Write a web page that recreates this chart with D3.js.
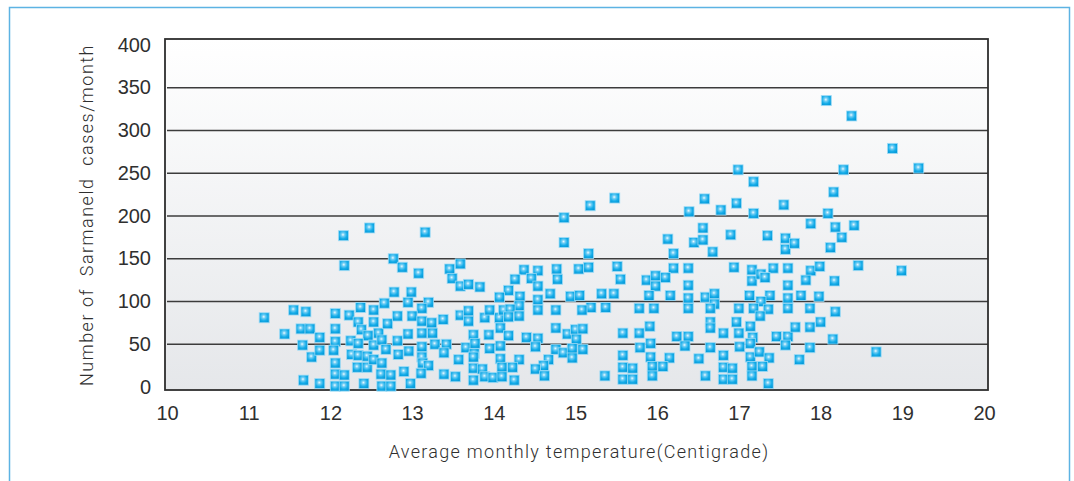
<!DOCTYPE html>
<html>
<head>
<meta charset="utf-8">
<script src="https://cdn.jsdelivr.net/npm/d3@7"></script>
<style>
  html, body { margin: 0; padding: 0; background: #fff; }
  svg { display: block; font-family: Roboto, "Liberation Sans", Arial, sans-serif; font-weight: 300; }
  .tick-label { font-size: 20px; fill: #2f2f2f; }
  .axis-title { font-size: 18px; fill: #2f2f2f; white-space: pre; }
</style>
</head>
<body>
<div id="chart"></div>
<script>
"use strict";

// average monthly temperature (centigrade)
var temps = [
  11.19, 11.44, 11.55, 11.70, 11.64, 11.75, 11.66, 11.87, 11.77, 11.87, 11.67, 11.87,
  12.16, 12.17, 12.06, 12.23, 12.37, 12.06, 12.34, 12.38, 12.46, 12.06, 12.25, 12.34,
  12.04, 12.26, 12.34, 12.45, 12.06, 12.33, 12.45, 12.06, 12.17, 12.41, 12.06, 12.17,
  12.48, 13.16, 12.53, 12.53, 12.59, 12.53, 12.53, 12.62, 12.63, 12.63, 12.63, 12.66,
  12.68, 12.70,
  12.77, 12.88, 13.08, 13.46, 13.59, 13.49, 13.59, 13.69, 13.83, 14.37, 14.54, 14.77,
  15.04, 14.26, 14.46, 14.78, 14.54, 12.78, 12.99, 14.18, 14.07, 14.32, 14.69, 14.94,
  15.05, 14.54, 12.95, 13.20, 13.12, 14.31, 12.82, 13.00, 13.12, 13.24, 13.38, 13.59,
  13.69, 13.69, 13.89, 13.95, 14.07, 14.12, 14.20, 14.18, 14.31, 14.54, 14.76, 13.12,
  12.95, 13.25, 14.08, 14.18, 13.94, 13.75, 14.40, 14.54, 14.76, 14.90, 15.00, 15.01,
  12.82, 12.83, 12.96, 13.12, 13.28, 13.42, 13.39, 13.66, 13.77, 13.76, 13.75, 13.95,
  14.08, 14.51, 14.76, 14.85, 14.96, 14.96, 13.12, 13.13, 13.20, 13.57, 14.08, 14.31,
  14.67, 14.61, 14.51, 14.10, 14.23, 13.75, 13.86, 12.74, 12.90, 13.11, 13.39, 13.53,
  13.89, 13.99, 14.10, 14.25, 14.62, 13.75, 12.98, 12.74, 14.86, 14.86,
  16.99, 17.18, 15.18, 15.48, 16.58, 16.97, 16.39, 16.78, 17.18, 17.55, 16.56, 16.13,
  16.45, 16.56, 16.90, 17.35, 17.57, 17.57, 16.68, 16.20, 15.16, 15.16, 15.51, 16.20,
  16.38, 16.94, 17.16, 17.42, 17.60, 17.16, 17.27, 17.32, 15.55, 15.87, 15.98, 16.10,
  15.98, 16.38, 17.60, 15.32, 15.47, 15.90, 16.16, 16.38, 16.59, 16.70, 16.70, 17.13,
  17.38, 17.27, 17.60, 15.19, 15.08, 15.37, 15.78, 15.96, 16.38, 16.65, 17.00, 17.18,
  17.36, 17.60, 17.26, 15.09, 15.58, 15.78, 15.91, 16.24, 16.38, 16.65, 16.65, 16.81,
  16.97, 17.00, 17.14, 17.17, 17.46, 17.60, 15.09, 15.79, 15.92, 16.34, 16.65, 17.01,
  17.14, 17.57, 15.58, 15.92, 16.15, 16.51, 16.81, 17.14, 17.25, 17.37, 15.58, 15.70,
  15.94, 16.07, 16.81, 16.92, 17.16, 17.29, 15.36, 15.58, 15.70, 15.94, 16.59, 16.81,
  16.92, 17.16, 17.36,
  18.07, 18.38, 18.88, 18.28, 19.20, 18.16, 18.09, 17.88, 18.18, 18.41, 18.26, 17.68,
  18.12, 17.88, 17.99, 18.46, 18.99, 17.82, 18.17, 17.76, 17.98, 17.87, 18.18, 17.69,
  17.87, 18.00, 18.15, 17.87, 18.68, 17.74
];

// number of Sarmaneld cases per month
var cases = [
  81, 62, 90, 88, 68, 68, 49, 58, 35, 43, 8, 4,
  177, 142, 86, 84, 93, 68, 76, 67, 60, 53, 54, 51,
  43, 38, 37, 36, 28, 23, 23, 15, 14, 4, 1, 1,
  186, 181, 90, 76, 63, 49, 32, 15, 1, 55, 28, 98,
  44, 74,
  150, 140, 133, 138, 144, 127, 118, 120, 117, 137, 136, 138,
  138, 126, 127, 126, 118, 111, 111, 113, 105, 106, 109, 106,
  107, 102, 99, 99, 92, 95, 83, 83, 77, 75, 79, 84,
  89, 77, 81, 90, 81, 90, 91, 82, 83, 90, 90, 63,
  62, 63, 69, 60, 61, 61, 58, 57, 69, 62, 67, 56,
  54, 38, 42, 47, 50, 50, 40, 46, 51, 39, 35, 45,
  48, 47, 44, 40, 45, 34, 35, 28, 25, 32, 33, 32,
  32, 25, 21, 23, 23, 22, 21, 14, 18, 16, 15, 12,
  12, 11, 12, 8, 13, 8, 4, 1, 198, 169,
  254, 240, 212, 221, 220, 215, 205, 207, 203, 213, 186, 173,
  169, 172, 178, 177, 174, 161, 158, 156, 156, 140, 141, 139,
  139, 140, 137, 139, 139, 124, 132, 128, 126, 125, 130, 128,
  118, 119, 119, 109, 109, 107, 107, 104, 105, 109, 97, 107,
  107, 100, 104, 93, 90, 93, 92, 92, 92, 92, 92, 92,
  91, 92, 83, 68, 63, 63, 71, 59, 59, 76, 69, 63,
  76, 63, 71, 58, 59, 59, 44, 46, 51, 48, 46, 47,
  51, 49, 37, 35, 34, 33, 37, 35, 41, 34, 23, 22,
  24, 24, 23, 22, 24, 24, 13, 9, 9, 13, 13, 9,
  9, 13, 4,
  335, 317, 279, 254, 256, 228, 203, 191, 187, 189, 175, 168,
  163, 136, 141, 142, 136, 125, 124, 107, 106, 92, 88, 70,
  70, 76, 56, 46, 41, 32
];

var xTicks = [10, 11, 12, 13, 14, 15, 16, 17, 18, 19, 20];
var yTicks = [0, 50, 100, 150, 200, 250, 300, 350, 400];
var xTitle = "Average monthly temperature(Centigrade)";
var yTitle = "Number of  Sarmaneld  cases/month";

var width = 1074, height = 481;

var svg = d3.select("#chart")
    .append("svg")
    .attr("width", width)
    .attr("height", height);

var defs = svg.append("defs");

// plot background: white fading to light grey
var bg = defs.append("linearGradient")
    .attr("id", "plotBg")
    .attr("x1", 0).attr("y1", 0).attr("x2", 0).attr("y2", 1);
bg.append("stop").attr("offset", "0%").attr("stop-color", "#ffffff");
bg.append("stop").attr("offset", "100%").attr("stop-color", "#e5e7ea");

// glossy marker
var glow = defs.append("radialGradient")
    .attr("id", "markerFill")
    .attr("cx", "45%").attr("cy", "40%").attr("r", "62%");
glow.append("stop").attr("offset", "0%").attr("stop-color", "#eefaff");
glow.append("stop").attr("offset", "28%").attr("stop-color", "#6fcdf4");
glow.append("stop").attr("offset", "65%").attr("stop-color", "#16ade9");
glow.append("stop").attr("offset", "100%").attr("stop-color", "#0599d8");

// outer light blue frame
svg.append("rect")
    .attr("x", 9.5).attr("y", 7.5)
    .attr("width", 1060).attr("height", 500)
    .attr("fill", "none")
    .attr("stroke", "#5db3e3")
    .attr("stroke-width", 1.5);

var frame = { left: 165, top: 39, right: 988, bottom: 390 };

var xScale = d3.scaleLinear()
    .domain([10, 20])
    .range([167, 984]);

var yScale = d3.scaleLinear()
    .domain([0, 400])
    .range([387, 45]);

svg.append("rect")
    .attr("x", frame.left).attr("y", frame.top)
    .attr("width", frame.right - frame.left)
    .attr("height", frame.bottom - frame.top)
    .attr("fill", "url(#plotBg)");

// horizontal grid lines
svg.selectAll(".grid")
    .data(yTicks.filter(function(d){ return d > 0 && d < 400; }))
    .enter()
    .append("line")
    .attr("class", "grid")
    .attr("x1", frame.left + 2)
    .attr("x2", frame.right)
    .attr("y1", function(d){ return yScale(d); })
    .attr("y2", function(d){ return yScale(d); })
    .attr("stroke", "#3c3c3c")
    .attr("stroke-width", 1.3);

// frame border
svg.append("rect")
    .attr("x", frame.left).attr("y", frame.top)
    .attr("width", frame.right - frame.left)
    .attr("height", frame.bottom - frame.top)
    .attr("fill", "none")
    .attr("stroke", "#2e2e2e")
    .attr("stroke-width", 1.8);

// axes: labels only, no tick marks
var yAxis = d3.axisLeft(yScale)
    .tickValues(yTicks)
    .tickSize(0)
    .tickPadding(0);

svg.append("g")
    .attr("transform", "translate(151,-1)")
    .call(yAxis)
    .call(function(g){ g.select(".domain").remove(); })
    .selectAll("text")
    .attr("class", "tick-label")
    .attr("font-family", null)
    .attr("font-size", null)
    .attr("fill", null)
    .attr("dy", "0.35em");

var xAxis = d3.axisBottom(xScale)
    .tickValues(xTicks)
    .tickSize(0)
    .tickPadding(0);

svg.append("g")
    .attr("transform", "translate(0,413)")
    .call(xAxis)
    .call(function(g){ g.select(".domain").remove(); })
    .selectAll("text")
    .attr("class", "tick-label")
    .attr("font-family", null)
    .attr("font-size", null)
    .attr("fill", null)
    .attr("dy", "0.35em");

// axis titles
svg.append("text")
    .attr("class", "axis-title")
    .attr("x", 579)
    .attr("y", 458)
    .attr("text-anchor", "middle")
    .style("letter-spacing", "1.3px")
    .text(xTitle);

svg.append("text")
    .attr("class", "axis-title")
    .attr("transform", "translate(93,215) rotate(-90)")
    .attr("text-anchor", "middle")
    .style("letter-spacing", "1.5px")
    .text(yTitle);

// points
var points = temps.map(function(t, i){ return { t: t, c: cases[i] }; });
var size = 10;

svg.append("g")
    .selectAll("rect")
    .data(points)
    .enter()
    .append("rect")
    .attr("x", function(d){ return xScale(d.t) - size / 2; })
    .attr("y", function(d){ return yScale(d.c) - size / 2; })
    .attr("width", size)
    .attr("height", size)
    .attr("fill", "url(#markerFill)")
    .attr("stroke", "#9fdcf6")
    .attr("stroke-width", 1)
    .attr("stroke-opacity", 0.8);
</script>
</body>
</html>
